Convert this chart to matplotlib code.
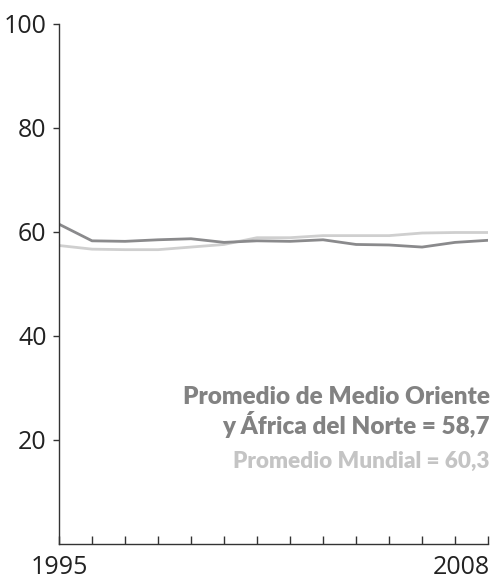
import numpy as np
import matplotlib
matplotlib.use("Agg")
import matplotlib.pyplot as plt

years = np.arange(1995, 2009)
mena = [61.5, 58.3, 58.2, 58.5, 58.7, 58.0, 58.3, 58.2, 58.5, 57.6, 57.5, 57.1, 58.0, 58.4]
world = [57.4, 56.7, 56.6, 56.6, 57.1, 57.6, 58.9, 58.9, 59.3, 59.3, 59.3, 59.8, 59.9, 59.9]
y_ticks = [20, 40, 60, 80, 100]
x_labels = ["1995", "2008"]

dark = "#8a8a8c"
light = "#cfcfcf"

fig = plt.figure(figsize=(4.93, 5.82), dpi=100)
ax = fig.add_axes([0.1197, 0.0653, 0.8703, 0.8935])

ax.plot(years, world, color=light, lw=2.0, solid_capstyle="butt")
ax.plot(years, mena, color=dark, lw=2.0, solid_capstyle="butt")

ax.set_xlim(1995, 2008)
ax.set_ylim(0, 100)

ax.spines["top"].set_visible(False)
ax.spines["right"].set_visible(False)
for s in ("left", "bottom"):
    ax.spines[s].set_color("#333333")
    ax.spines[s].set_linewidth(1.0)

ax.set_yticks(y_ticks)
ax.set_yticklabels([str(v) for v in y_ticks], fontsize=18, family="Open Sans", color="#222222")
ax.tick_params(axis="y", direction="out", length=4, width=1, color="#333333", pad=5)

ax.set_xticks(years)
ax.set_xticklabels([""] * len(years))
ax.tick_params(axis="x", direction="in", length=6, width=1, color="#333333")
ax.text(1995, -2.2, x_labels[0], ha="center", va="top", fontsize=18,
        family="Open Sans", color="#222222", clip_on=False)
ax.text(2008.05, -2.2, x_labels[1], ha="right", va="top", fontsize=18,
        family="Open Sans", color="#222222", clip_on=False)

ax.text(2008.05, 27.0, "Promedio de Medio Oriente", ha="right", va="baseline",
        fontsize=17.5, family="Lato", weight="heavy", color="#828282")
ax.text(2008.05, 21.2, "y África del Norte = 58,7", ha="right", va="baseline",
        fontsize=17.5, family="Lato", weight="heavy", color="#828282")
ax.text(2008.05, 14.7, "Promedio Mundial = 60,3", ha="right", va="baseline",
        fontsize=16.2, family="Lato", weight="heavy", color="#c4c4c4")

fig.savefig("out.png", dpi=100)
